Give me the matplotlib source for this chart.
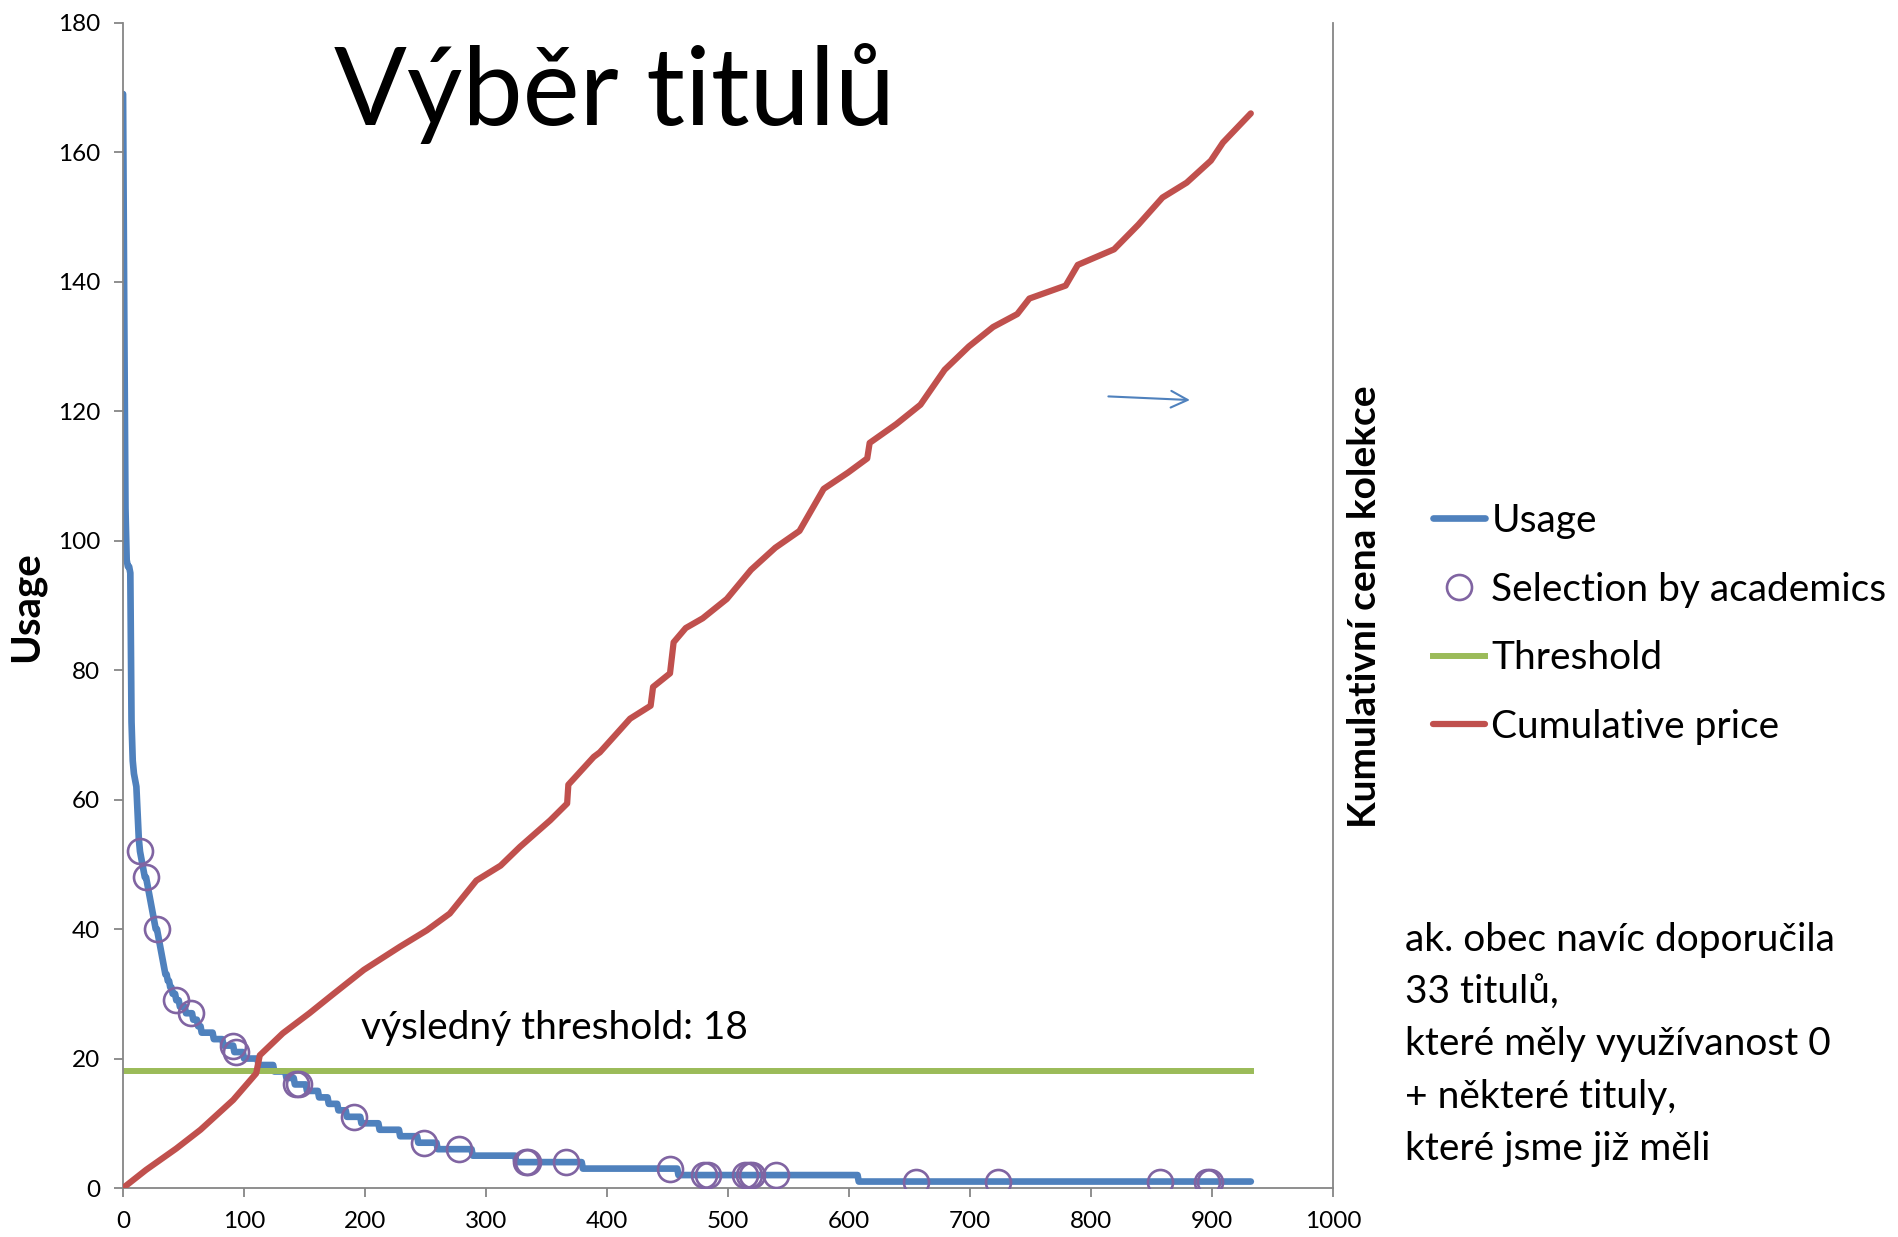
import matplotlib
matplotlib.use("Agg")
import matplotlib.pyplot as plt
import numpy as np

plt.rcParams['font.family'] = ['Lato', 'DejaVu Sans']

# usage per title, sorted descending (head read point by point, then runs of equal usage)
usage_head = [169, 135, 105, 97, 96, 96, 95, 72, 66, 64,
              63, 62, 58, 54, 52, 51, 50, 49, 48, 48,
              47, 46, 45, 44, 43, 42, 41, 40, 40, 39,
              38, 37, 36, 35, 34, 33, 33, 32, 32, 31,
              31, 30, 30, 30]
run_values = [29, 28, 27, 26, 25, 24, 23, 22, 21, 20, 19, 18, 17, 16, 15,
              14, 13, 12, 11, 10, 9, 8, 7, 6, 5, 4, 3, 2, 1]
run_counts = [3, 5, 6, 4, 3, 10, 8, 9, 8, 12, 13, 10, 7, 10, 10,
              8, 8, 7, 12, 15, 17, 15, 16, 29, 36, 55, 79, 149, 325]

# titles selected by academics
sel_x = [14, 19, 28, 44, 56, 91, 93, 143, 145, 191, 249, 278, 333, 335, 366,
         452, 480, 483, 514, 517, 520, 540, 655, 723, 857, 896, 898]
sel_y = [52, 48, 40, 29, 27, 22, 21, 16, 16, 11, 7, 6, 4, 4, 4,
         3, 2, 2, 2, 2, 2, 2, 1, 1, 1, 1, 1]

threshold = 18

# cumulative price (secondary axis, no scale shown)
price_x = [0, 19, 44, 64, 91, 110, 113, 132, 154, 174, 199, 229, 251, 270, 292,
           312, 328, 353, 367, 368, 389, 394, 419, 436, 438, 452, 455, 465, 479,
           499, 519, 539, 559, 579, 599, 615, 617, 639, 659, 679, 699, 719, 739,
           749, 779, 789, 819, 839, 859, 879, 899, 909, 932]
price_y = [0, 2.8, 6.1, 9.0, 13.6, 17.7, 20.5, 23.9, 27.0, 30.0, 33.7, 37.3, 39.8, 42.4, 47.5,
           49.8, 52.7, 56.8, 59.4, 62.3, 66.6, 67.3, 72.5, 74.5, 77.4, 79.5, 84.3, 86.5, 88.0,
           91.0, 95.5, 98.9, 101.5, 108.0, 110.5, 112.7, 115.1, 118.0, 121.0, 126.4, 130.0, 133.0, 135.0,
           137.4, 139.4, 142.6, 145.0, 148.8, 153.0, 155.3, 158.7, 161.5, 166.0]

usage = np.concatenate([usage_head, np.repeat(run_values, run_counts)])
titles = np.arange(len(usage))

blue = '#4F81BD'
red = '#C0504D'
green = '#9BBB59'
purple = '#8064A2'
grey = '#868686'

fig = plt.figure(figsize=(18.99, 12.37), dpi=100)
ax = fig.add_axes([0.0648, 0.0396, 0.6372, 0.942])

l_usage, = ax.plot(titles, usage, color=blue, lw=4.8, solid_capstyle='round',
                   solid_joinstyle='round', label='Usage', zorder=2)
l_sel, = ax.plot(sel_x, sel_y, ls='none', marker='o', ms=18, mfc='none', mec=purple,
                 mew=1.9, label='Selection by academics', zorder=3)
l_thr, = ax.plot([0, titles[-1]], [threshold, threshold], color=green, lw=4.3,
                 label='Threshold', zorder=2)

ax2 = ax.twinx()
l_price, = ax2.plot(price_x, price_y, color=red, lw=4.5, solid_capstyle='round',
                    solid_joinstyle='round', label='Cumulative price')
ax2.set_ylim(0, 180)
ax2.set_yticks([])
for s in ['top', 'left', 'bottom']:
    ax2.spines[s].set_visible(False)
ax2.spines['right'].set_color(grey)
ax2.spines['right'].set_linewidth(1.3)

ax.set_xlim(0, 1000)
ax.set_ylim(0, 180)
ax.set_xticks(np.arange(0, 1001, 100))
ax.set_yticks(np.arange(0, 181, 20))
ax.spines['top'].set_visible(False)
ax.spines['right'].set_visible(False)
for s in ['left', 'bottom']:
    ax.spines[s].set_color(grey)
    ax.spines[s].set_linewidth(1.3)
ax.tick_params(direction='out', length=6.5, width=1.3, color=grey,
               labelsize=17.5, pad=10)

fig.text(27 / 1899, 1 - 607 / 1237, 'Usage', rotation=90, ha='center', va='center',
         fontsize=29, fontweight='bold')
fig.text(1365 / 1899, 1 - 607 / 1237, 'Kumulativní cena kolekce', rotation=90,
         ha='center', va='center', fontsize=28, fontweight='bold')

fig.text(615 / 1899, 1 - 125 / 1237, 'Výběr titulů', ha='center', va='baseline',
         fontsize=77.5)

ax.text(197, 23, 'výsledný threshold: 18', fontsize=28, va='baseline')

ax.annotate('', xy=(884, 121.7), xytext=(812, 122.3),
            arrowprops=dict(arrowstyle='->', color=blue, lw=1.5, mutation_scale=30))

fig.legend(handles=[l_usage, l_sel, l_thr, l_price], loc='center left',
           bbox_to_anchor=(1433 / 1899, 1 - 624 / 1237), frameon=False,
           fontsize=28, handlelength=1.35, handletextpad=0.15, labelspacing=0.84,
           borderpad=0, borderaxespad=0)

fig.text(1405 / 1899, 1 - 922 / 1237,
         'ak. obec navíc doporučila\n33 titulů,\nkteré měly využívanost 0\n'
         '+ některé tituly,\nkteré jsme již měli',
         ha='left', va='top', fontsize=28, linespacing=1.56)

fig.savefig('out.png', dpi=100)
